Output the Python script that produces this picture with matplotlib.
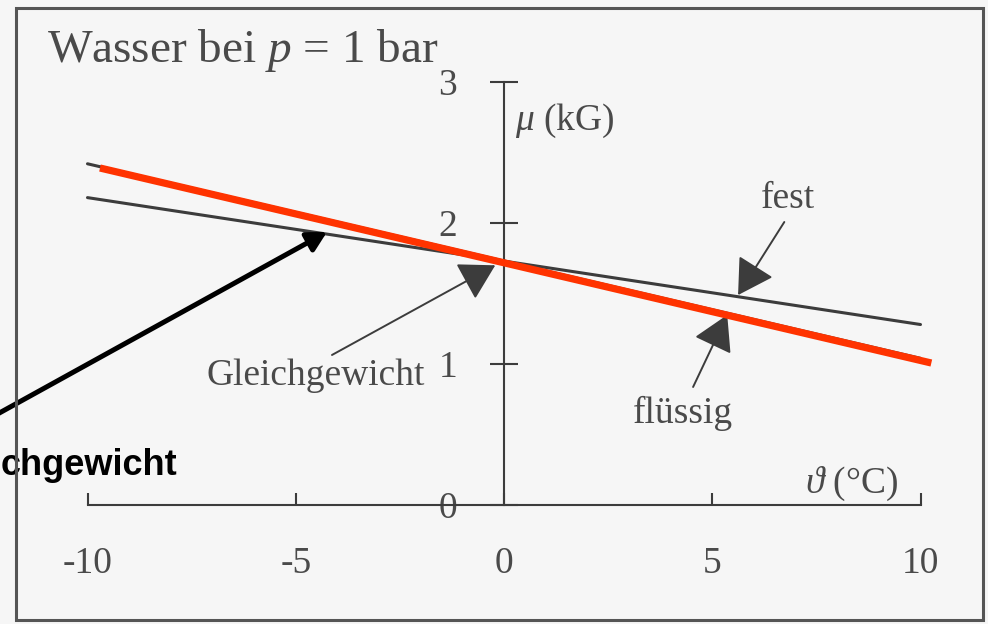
import matplotlib
matplotlib.use("Agg")
import matplotlib.pyplot as plt
from matplotlib.patches import Rectangle

# Chemical potential of water at p = 1 bar (kG) versus temperature (°C)
temps = [-10, 10]
mu_fest = [2.18, 1.28]        # solid (ice)
mu_fluessig = [2.42, 1.04]    # liquid water
red_temps = [-9.7, 10.26]     # highlighted liquid line
red_mu = [2.39, 1.007]

x_ticks = [-10, -5, 0, 5, 10]
x_tick_labels = ["-10", "-5", "0", "5", "10"]
y_ticks = [0, 1, 2, 3]
y_tick_labels = ["0", "1", "2", "3"]

plt.rcParams["mathtext.fontset"] = "custom"
plt.rcParams["mathtext.rm"] = "Liberation Serif"
plt.rcParams["mathtext.it"] = "Liberation Serif:italic"

BG = "#f6f6f6"
INK = "#4a4a4a"
LINE = "#3c3c3c"
SERIF = ["Liberation Serif", "DejaVu Serif"]

W, H = 988, 624
fig = plt.figure(figsize=(W / 100, H / 100), dpi=100, facecolor=BG)
ax = fig.add_axes([0, 0, 1, 1])
ax.set_facecolor("none")

# pixel scale: x0 = 504 px, 41.65 px/°C ; y0 = 505 px from top, 141 px/kG
px_x, x0 = 41.65, 504
px_y, y0 = 141.0, 505
ax.set_xlim(-x0 / px_x, (W - x0) / px_x)
ax.set_ylim((y0 - H) / px_y, y0 / px_y)

# outer frame
ax.add_patch(Rectangle((16 / W, 1 - 620 / H), (983 - 16) / W, (620 - 8) / H,
                       transform=ax.transAxes, fill=False, ec="#555555", lw=2.2,
                       zorder=6))

# axes through the origin
for side in ("top", "right"):
    ax.spines[side].set_visible(False)
ax.spines["bottom"].set_position(("data", 0))
ax.spines["left"].set_position(("data", 0))
ax.spines["bottom"].set_bounds(-10, 10)
ax.spines["left"].set_bounds(0, 3)
for side in ("bottom", "left"):
    ax.spines[side].set_color(LINE)
    ax.spines[side].set_linewidth(1.5)

ax.set_xticks(x_ticks, x_tick_labels)
ax.set_yticks(y_ticks, y_tick_labels)
ax.tick_params(axis="x", direction="in", length=8.6, width=1.5, color=LINE,
               pad=30, labelsize=27, labelcolor=INK)
ax.tick_params(axis="y", direction="inout", length=19.5, width=1.5, color=LINE,
               pad=24, labelsize=27, labelcolor=INK)
for lab in ax.get_xticklabels() + ax.get_yticklabels():
    lab.set_family(SERIF)
ax.get_yticklabels()[0].set_bbox(dict(fc=BG, ec="none", pad=1))

# curves
ax.plot(temps, mu_fest, color=LINE, lw=2.2, solid_capstyle="round", zorder=3)
ax.plot(temps, mu_fluessig, color=LINE, lw=2.2, solid_capstyle="round", zorder=3)
ax.plot(red_temps, red_mu, color="#ff3300", lw=5.2, solid_capstyle="butt", zorder=4)

# labels
tk = dict(color=INK, family=SERIF, fontsize=27)
ax.text(-10.98, 3.142, r"Wasser bei $p$ = 1 bar", color=INK, family=SERIF,
        fontsize=34, ha="left", va="baseline")
ax.text(0.27, 2.66, r"$\mu$ (kG)", ha="left", va="baseline", **tk)
ax.text(7.23, 0.085, r"$\vartheta$ (°C)", ha="left", va="baseline", **tk)

gray_arrow = dict(arrowstyle="-|>,head_length=0.55,head_width=0.32",
                  mutation_scale=40, color=LINE, lw=1.4, shrinkA=0, shrinkB=0)
ax.annotate("", xy=(5.62, 1.489), xytext=(6.73, 2.007), arrowprops=gray_arrow)
ax.text(6.82, 2.106, "fest", ha="center", va="baseline", **tk)
ax.annotate("", xy=(5.36, 1.348), xytext=(4.54, 0.837), arrowprops=gray_arrow)
ax.text(4.30, 0.58, "flüssig", ha="center", va="baseline", **tk)
ax.annotate("", xy=(-0.21, 1.70), xytext=(-4.13, 1.064), arrowprops=gray_arrow)
ax.text(-4.53, 0.851, "Gleichgewicht", ha="center", va="baseline", **tk)

# bold equilibrium annotation
black_arrow = dict(arrowstyle="-|>,head_length=0.55,head_width=0.3",
                   mutation_scale=21, color="black", lw=3.6,
                   shrinkA=0, shrinkB=0)
ax.annotate("", xy=(-4.25, 1.936), xytext=(-12.5, 0.59), arrowprops=black_arrow,
            annotation_clip=False)
ax.text((177 - x0) / px_x, (y0 - 475) / px_y, "chgewicht", ha="right",
        va="baseline", color="black", family=["Liberation Sans", "DejaVu Sans"],
        fontweight="bold", fontsize=26)

fig.savefig("out.png", dpi=100, facecolor=BG)
